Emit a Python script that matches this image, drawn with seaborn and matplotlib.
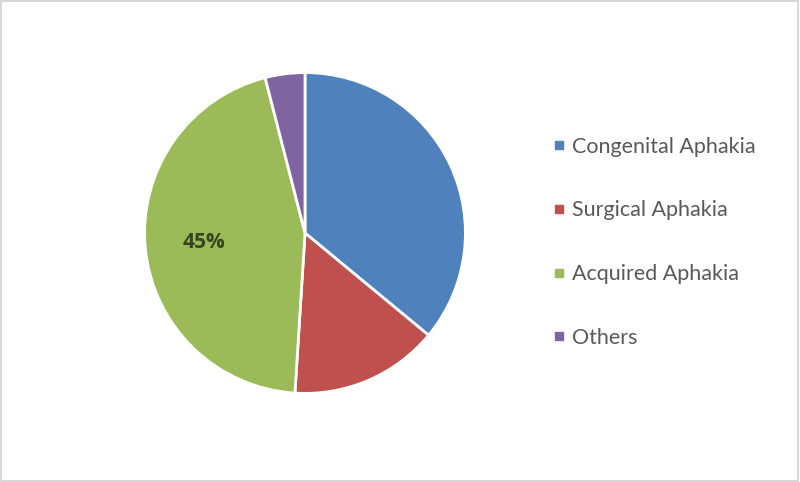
import matplotlib
matplotlib.use("Agg")
import matplotlib.pyplot as plt
from matplotlib.lines import Line2D
from matplotlib.patches import Rectangle
import seaborn as sns

categories = ["Congenital Aphakia", "Surgical Aphakia", "Acquired Aphakia", "Others"]
shares = [36, 15, 45, 4]
shown_labels = ["", "", "45%", ""]
colors = ["#4F81BD", "#C0504D", "#9BBB59", "#8064A2"]

sns.set_theme(style="white")
plt.rcParams["font.family"] = ["Lato", "DejaVu Sans"]
palette = sns.color_palette(colors)

fig = plt.figure(figsize=(8.0, 4.82), dpi=100)
fig.patch.set_facecolor("white")

cx, cy, r = 305, 233, 162
ax = fig.add_axes([(cx - r) / 800, 1 - (cy + r) / 482, 2 * r / 800, 2 * r / 482])

labels_iter = iter(shown_labels)
wedges, _texts, autotexts = ax.pie(
    shares,
    colors=palette,
    startangle=90,
    counterclock=False,
    radius=1.0,
    autopct=lambda p: next(labels_iter),
    pctdistance=0.63,
    wedgeprops=dict(edgecolor="white", linewidth=2),
    textprops=dict(fontsize=15, fontweight="bold", color="#36451f",
                   family=["Open Sans", "DejaVu Sans"]),
)
ax.set_xlim(-1.01, 1.01)
ax.set_ylim(-1.01, 1.01)
ax.set_aspect("equal")
ax.axis("off")

handles = [Line2D([0], [0], marker="s", linestyle="none", markersize=6,
                  markerfacecolor=c, markeredgecolor=c) for c in palette]
leg = fig.legend(handles, categories, loc="upper left",
                 bbox_to_anchor=(542 / 800, 1 - 126 / 482),
                 frameon=False, fontsize=15.5, labelspacing=2.03,
                 handlelength=0.6, handletextpad=0.3, borderpad=0)
for t in leg.get_texts():
    t.set_color("#595959")

fig.patches.append(Rectangle((0.001, 0.002), 0.997, 0.995, transform=fig.transFigure,
                             fill=False, edgecolor="#d0d0d0", linewidth=1.2))

fig.savefig("out.png", dpi=100, facecolor="white")
